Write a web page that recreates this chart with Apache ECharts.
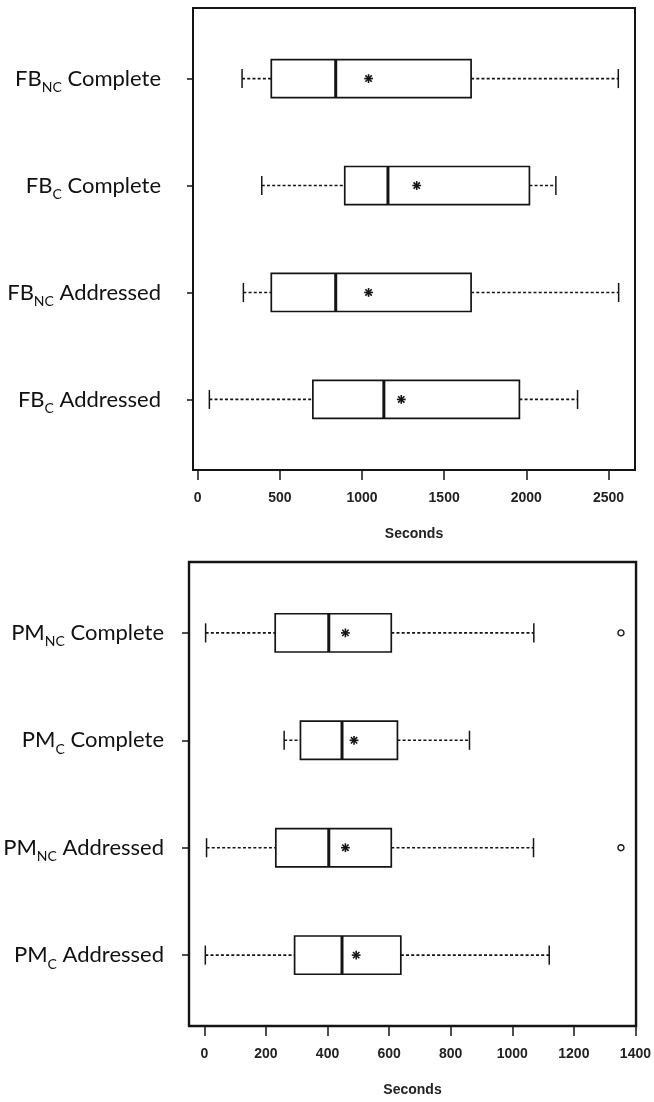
<!DOCTYPE html>
<html>
<head>
<meta charset="utf-8">
<script src="https://cdn.jsdelivr.net/npm/echarts@6/dist/echarts.min.js"></script>
<style>
  html, body { margin: 0; padding: 0; background: #fff; }
  #chart { width: 654px; height: 1102px; }
</style>
</head>
<body>
<div id="chart"></div>
<script>
// ---- Data (top to bottom order) ----
const fbLabels = ['FB_NC Complete', 'FB_C Complete', 'FB_NC Addressed', 'FB_C Addressed'];
const fbLow    = [270, 390, 278, 71];
const fbQ1     = [448, 895, 448, 701];
const fbMedian = [840, 1158, 840, 1133];
const fbQ3     = [1664, 2019, 1664, 1958];
const fbHigh   = [2560, 2180, 2562, 2312];
const fbMean   = [1040, 1333, 1040, 1239];
const fbTicks  = [0, 500, 1000, 1500, 2000, 2500];

const pmLabels = ['PM_NC Complete', 'PM_C Complete', 'PM_NC Addressed', 'PM_C Addressed'];
const pmLow    = [4, 259, 7, 3];
const pmQ1     = [230, 312, 232, 293];
const pmMedian = [404, 447, 404, 447];
const pmQ3     = [607, 627, 607, 638];
const pmHigh   = [1070, 861, 1069, 1120];
const pmMean   = [458, 486, 458, 493];
const pmOutlierValues = [1353, 1353];
const pmOutlierGroups = ['PM_NC Complete', 'PM_NC Addressed'];
const pmTicks  = [0, 200, 400, 600, 800, 1000, 1200, 1400];

const axisName = 'Seconds';

// ---- helpers ----
const rowPos = [1, 2, 3, 4];
function yOf(i) { return 4 - i; }
function richLabel(s) {
  const m = s.match(/^([A-Z]+)_([A-Z]+) (.*)$/);
  if (!m) return '{m|' + s + '}';
  return '{m|' + m[1] + '}{s|' + m[2] + '}{m| ' + m[3] + '}';
}
function buildBoxData(low, q1, med, q3, high, mean) {
  return low.map((v, i) => [yOf(i), v, q1[i], med[i], q3[i], high[i], mean[i]]);
}
const INK = '#141414';
function renderBox(params, api) {
  const y = api.value(0);
  const pLow = api.coord([api.value(1), y]);
  const pQ1 = api.coord([api.value(2), y]);
  const pMed = api.coord([api.value(3), y]);
  const pQ3 = api.coord([api.value(4), y]);
  const pHigh = api.coord([api.value(5), y]);
  const pMean = api.coord([api.value(6), y]);
  const half = api.size([0, 0.178])[1];
  const cap = half * 0.5;
  const cy = pLow[1];
  const dashed = { stroke: INK, lineWidth: 1.6, lineDash: [3, 2.2] };
  const solid = { stroke: INK, lineWidth: 1.5 };
  const r = 4.4;
  const d = r * 0.72;
  const mx = pMean[0], my = pMean[1];
  return {
    type: 'group',
    children: [
      { type: 'line', shape: { x1: pLow[0], y1: cy, x2: pQ1[0], y2: cy }, style: dashed },
      { type: 'line', shape: { x1: pQ3[0], y1: cy, x2: pHigh[0], y2: cy }, style: dashed },
      { type: 'line', shape: { x1: pLow[0], y1: cy - cap, x2: pLow[0], y2: cy + cap }, style: solid },
      { type: 'line', shape: { x1: pHigh[0], y1: cy - cap, x2: pHigh[0], y2: cy + cap }, style: solid },
      { type: 'rect', shape: { x: pQ1[0], y: cy - half, width: pQ3[0] - pQ1[0], height: half * 2 },
        style: { fill: '#fff', stroke: INK, lineWidth: 1.7 } },
      { type: 'line', shape: { x1: pMed[0], y1: cy - half, x2: pMed[0], y2: cy + half },
        style: { stroke: INK, lineWidth: 3 } },
      { type: 'line', shape: { x1: mx - r, y1: my, x2: mx + r, y2: my }, style: { stroke: INK, lineWidth: 1.6 } },
      { type: 'line', shape: { x1: mx, y1: my - r, x2: mx, y2: my + r }, style: { stroke: INK, lineWidth: 1.6 } },
      { type: 'line', shape: { x1: mx - d, y1: my - d, x2: mx + d, y2: my + d }, style: { stroke: INK, lineWidth: 1.6 } },
      { type: 'line', shape: { x1: mx - d, y1: my + d, x2: mx + d, y2: my - d }, style: { stroke: INK, lineWidth: 1.6 } }
    ]
  };
}

const richStyles = {
  m: { fontFamily: 'Lato', fontSize: 22, lineHeight: 26, color: '#111' },
  s: { fontFamily: 'Lato', fontSize: 14, lineHeight: 13, padding: [15, 0, 0, 0], verticalAlign: 'top', color: '#111' }
};

function makeY(gridIndex, labels, margin, tickLen) {
  return {
    type: 'value', gridIndex: gridIndex, min: 0.34, max: 4.66,
    axisLine: { show: false, onZero: false },
    splitLine: { show: false },
    axisTick: { show: true, customValues: rowPos, length: tickLen, lineStyle: { color: INK, width: 1.5 } },
    axisLabel: {
      show: true, customValues: rowPos, margin: margin,
      formatter: function (v) { return richLabel(labels[4 - Math.round(v)]); },
      rich: richStyles
    }
  };
}
function makeX(gridIndex, ticks, min, max) {
  return {
    type: 'value', gridIndex: gridIndex, min: min, max: max,
    axisLine: { show: false, onZero: false },
    splitLine: { show: false },
    axisTick: { show: true, customValues: ticks, length: 10, lineStyle: { color: INK, width: 1.5 } },
    axisLabel: {
      show: true, customValues: ticks, margin: 21,
      fontFamily: 'Liberation Sans', fontSize: 14, fontWeight: 'bold', color: '#222',
      formatter: function (v) { return String(v); }
    },
    name: axisName, nameLocation: 'middle', nameGap: 57,
    nameTextStyle: { fontFamily: 'Liberation Sans', fontSize: 14, fontWeight: 'bold', color: '#222' }
  };
}

const chart = echarts.init(document.getElementById('chart'), null, { renderer: 'canvas' });
chart.setOption({
  animation: false,
  backgroundColor: '#fff',
  grid: [
    { left: 193, top: 8, right: 19, bottom: 632, show: true, borderColor: INK, borderWidth: 2, backgroundColor: 'transparent' },
    { left: 189, top: 562, right: 17, bottom: 76, show: true, borderColor: INK, borderWidth: 2.4, backgroundColor: 'transparent' }
  ],
  xAxis: [
    makeX(0, fbTicks, -28.6, 2661.6),
    makeX(1, pmTicks, -50, 1402)
  ],
  yAxis: [
    makeY(0, fbLabels, 32, 6),
    makeY(1, pmLabels, 25, 7)
  ],
  series: [
    {
      type: 'custom', xAxisIndex: 0, yAxisIndex: 0,
      renderItem: renderBox,
      encode: { x: [1, 2, 3, 4, 5, 6], y: 0 },
      data: buildBoxData(fbLow, fbQ1, fbMedian, fbQ3, fbHigh, fbMean)
    },
    {
      type: 'custom', xAxisIndex: 1, yAxisIndex: 1,
      renderItem: renderBox,
      encode: { x: [1, 2, 3, 4, 5, 6], y: 0 },
      data: buildBoxData(pmLow, pmQ1, pmMedian, pmQ3, pmHigh, pmMean)
    },
    {
      type: 'scatter', xAxisIndex: 1, yAxisIndex: 1,
      symbol: 'circle', symbolSize: 6, z: 5,
      itemStyle: { color: '#fff', borderColor: INK, borderWidth: 1.4, opacity: 1 },
      data: pmOutlierValues.map((v, k) => [v, yOf(pmLabels.indexOf(pmOutlierGroups[k]))])
    }
  ]
});
</script>
</body>
</html>
